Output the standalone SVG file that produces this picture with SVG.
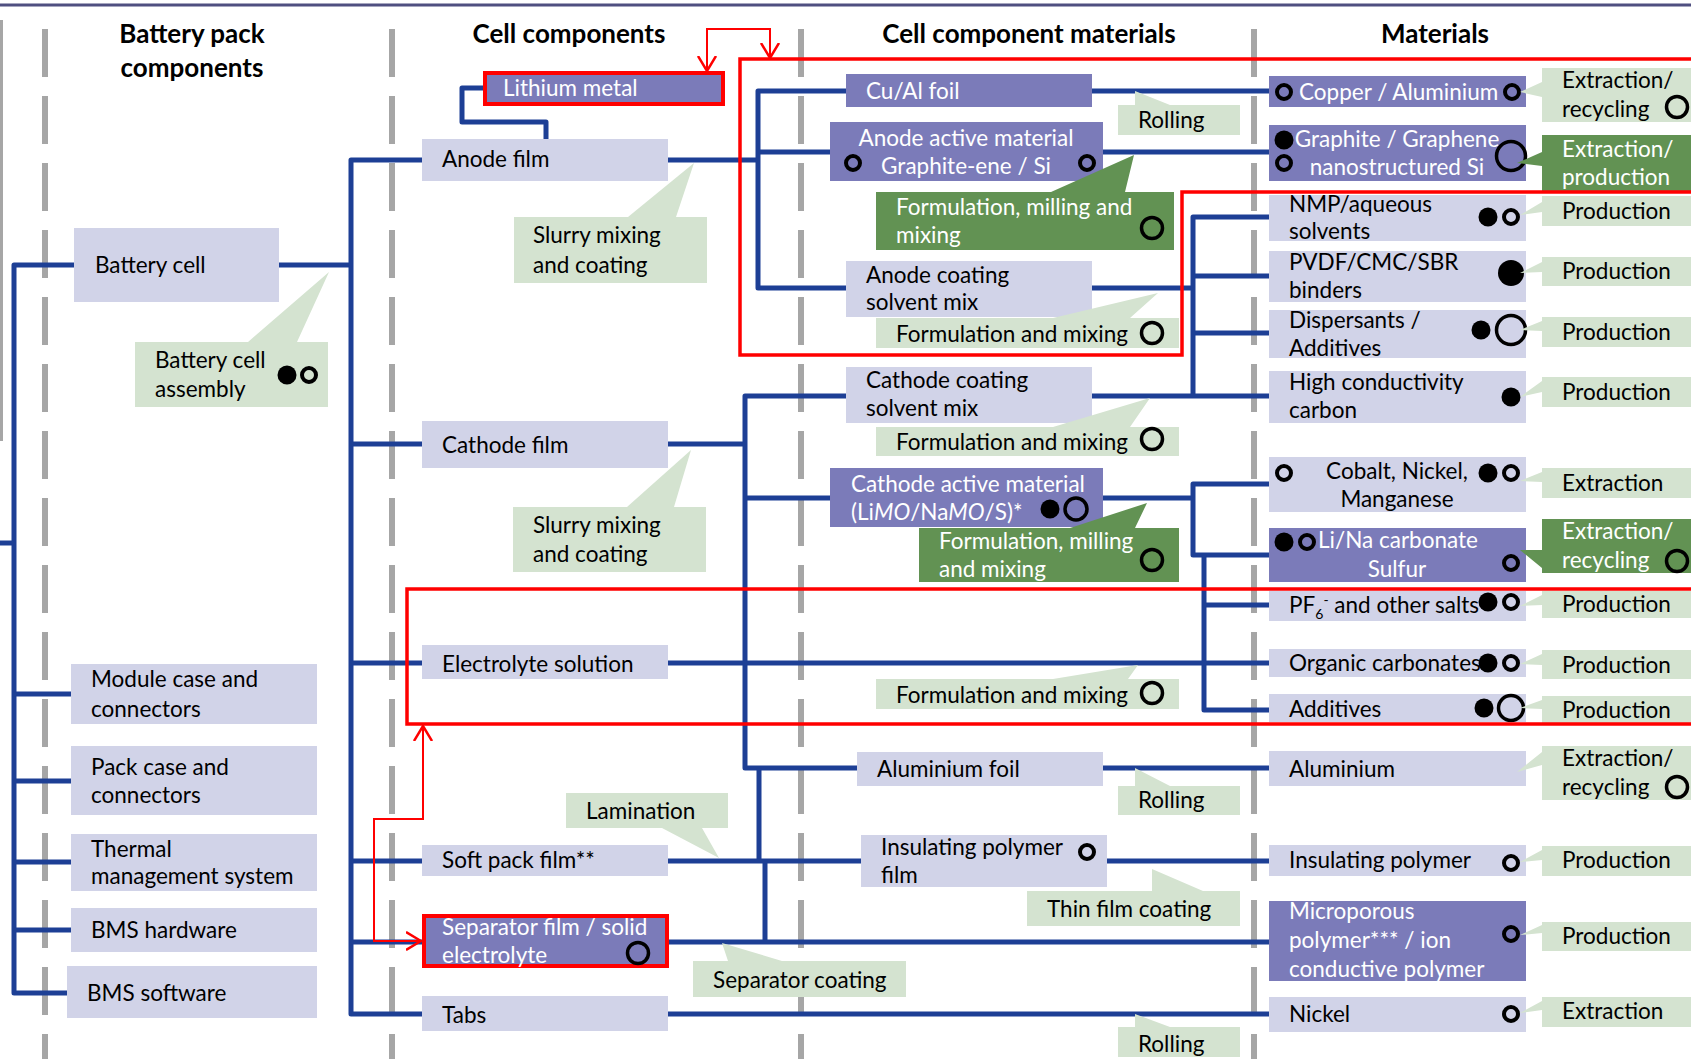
<svg xmlns="http://www.w3.org/2000/svg" width="1691" height="1059" viewBox="0 0 1691 1059">
<style>
.lb{fill:#d1d3e8}
.pb{fill:#7b7bb9}
.lg{fill:#d4e3d0}
.dg{fill:#629253}
.con{fill:none;stroke:#1d3f95;stroke-width:5;stroke-linejoin:round}
.dash{stroke:#a6a6a6;stroke-width:6;stroke-dasharray:48 19}
.rf{fill:none;stroke:#ff0000;stroke-width:3.5}
.ra{fill:none;stroke:#ff0000;stroke-width:2}
text{font-family:Lato,"Liberation Sans",sans-serif;font-size:22.5px;fill:#000}
.w{fill:#fff}
.h{font-weight:bold;font-size:26px;text-anchor:middle}
.m{text-anchor:middle}
.f{fill:#000}
.o{fill:none;stroke:#000;stroke-width:4}
.ol{fill:none;stroke:#000;stroke-width:3.5}
</style>
<defs>
<marker id="ah" viewBox="0 0 16 20" refX="15" refY="10" markerWidth="16" markerHeight="20" markerUnits="userSpaceOnUse" orient="auto-start-reverse">
<path d="M0,1 L15,10 L0,19" fill="none" stroke="#ff0000" stroke-width="2.5"/>
</marker>
</defs>
<rect width="1691" height="1059" fill="#fff"/>
<line x1="0" y1="5" x2="1691" y2="5" stroke="#4f4f80" stroke-width="3"/>
<line x1="1.5" y1="20" x2="1.5" y2="441" stroke="#a6a6a6" stroke-width="3"/>
<g id="columns">
<line class="dash" x1="45" y1="29" x2="45" y2="1059"/>
<line class="dash" x1="392" y1="29" x2="392" y2="1059"/>
<line class="dash" x1="801" y1="29" x2="801" y2="1059"/>
<line class="dash" x1="1254" y1="29" x2="1254" y2="1059"/>
</g>
<g id="headers">
<text class="h" x="192" y="43">Battery pack</text>
<text class="h" x="192" y="77">components</text>
<text class="h" x="569" y="43">Cell components</text>
<text class="h" x="1029" y="43">Cell component materials</text>
<text class="h" x="1435" y="43">Materials</text>
</g>
<g id="connectors">
<path class="con" d="M74,265 H14 V993 H67"/>
<path class="con" d="M0,543 H14"/>
<path class="con" d="M14,694 H71 M14,781 H71 M14,862 H71 M14,930 H71"/>
<path class="con" d="M279,265 H351"/>
<path class="con" d="M422,160 H351 V1014 H422"/>
<path class="con" d="M351,444 H422 M351,663 H422 M351,861 H422 M351,942 H422"/>
<path class="con" d="M483,88 H462 V122 H546 V139"/>
<path class="con" d="M668,160 H758"/>
<path class="con" d="M846,91 H758 V288 H846 M758,152 H830"/>
<path class="con" d="M1092,91 H1269 M1103,152 H1269"/>
<path class="con" d="M1092,288 H1193"/>
<path class="con" d="M1269,217 H1193 V396 H1269 M1193,276 H1269 M1193,333 H1269 M1092,396 H1193"/>
<path class="con" d="M846,396 H745 V768 H857 M668,444 H745 M745,498 H830"/>
<path class="con" d="M1103,498 H1193"/>
<path class="con" d="M1269,484 H1193 V555 H1269"/>
<path class="con" d="M1204,555 V710 H1269 M1204,605 H1269"/>
<path class="con" d="M668,663 H1269"/>
<path class="con" d="M1103,768 H1269"/>
<path class="con" d="M759,768 V861 M765,861 V942"/>
<path class="con" d="M668,861 H861 M1107,861 H1269"/>
<path class="con" d="M669,942 H1269"/>
<path class="con" d="M668,1014 H1269"/>
</g>
<g id="battery-cell"><rect class="lb" x="74" y="228" width="205" height="74"/><text x="95" y="273">Battery cell</text></g>
<g id="battery-cell-assembly"><path class="lg" d="M135,342 H248 L329,272 L297,342 H328 V407 H135 Z"/><text x="155" y="368">Battery cell</text><text x="155" y="397">assembly</text><circle class="f" cx="287" cy="375" r="9.5"/><circle class="o" cx="309" cy="375" r="7"/></g>
<g id="module-case"><rect class="lb" x="71" y="664" width="246" height="60"/><text x="91" y="687">Module case and</text><text x="91" y="717">connectors</text></g>
<g id="pack-case"><rect class="lb" x="71" y="746" width="246" height="69"/><text x="91" y="775">Pack case and</text><text x="91" y="803">connectors</text></g>
<g id="thermal"><rect class="lb" x="71" y="834" width="246" height="57"/><text x="91" y="857">Thermal</text><text x="91" y="884">management system</text></g>
<g id="bms-hw"><rect class="lb" x="71" y="908" width="246" height="44"/><text x="91" y="938">BMS hardware</text></g>
<g id="bms-sw"><rect class="lb" x="67" y="966" width="250" height="52"/><text x="87" y="1001">BMS software</text></g>

<g id="lithium-metal"><rect class="pb" x="485" y="73" width="238" height="31" stroke="#ff0000" stroke-width="4"/><text class="w" x="503" y="96">Lithium metal</text></g>
<g id="anode-film"><rect class="lb" x="422" y="139" width="246" height="42"/><text x="442" y="167">Anode film</text></g>
<g id="slurry-anode"><path class="lg" d="M514,217 H628 L694,163 L676,217 H707 V283 H514 Z"/><text x="533" y="243">Slurry mixing</text><text x="533" y="273">and coating</text></g>
<g id="cathode-film"><rect class="lb" x="422" y="421" width="246" height="47"/><text x="442" y="453">Cathode film</text></g>
<g id="slurry-cathode"><path class="lg" d="M513,507 H627 L691,450 L674,507 H706 V572 H513 Z"/><text x="533" y="533">Slurry mixing</text><text x="533" y="562">and coating</text></g>
<g id="electrolyte"><rect class="lb" x="422" y="645" width="246" height="34"/><text x="442" y="672">Electrolyte solution</text></g>
<g id="lamination"><path class="lg" d="M566,793 H728 V828 H702 L719,858 L662,828 H566 Z"/><text x="586" y="819">Lamination</text></g>
<g id="soft-pack"><rect class="lb" x="422" y="845" width="246" height="31"/><text x="442" y="868">Soft pack film**</text></g>
<g id="separator"><rect class="pb" x="424" y="916" width="243" height="50" stroke="#ff0000" stroke-width="4"/><text class="w" x="442" y="935">Separator film / solid</text><text class="w" x="442" y="963">electrolyte</text><circle class="ol" cx="638" cy="953" r="10.5"/></g>
<g id="tabs"><rect class="lb" x="422" y="996" width="246" height="35"/><text x="442" y="1023">Tabs</text></g>

<g id="cu-al-foil"><rect class="pb" x="846" y="74" width="246" height="33"/><text class="w" x="866" y="99">Cu/Al foil</text></g>
<g id="rolling-1"><path class="lg" d="M1118,105 H1135 V91 L1170,105 H1240 V135 H1118 Z"/><text x="1138" y="128">Rolling</text></g>
<g id="anode-active"><rect class="pb" x="830" y="122" width="273" height="59"/><text class="w m" x="966" y="146">Anode active material</text><text class="w m" x="966" y="174">Graphite-ene / Si</text><circle class="o" cx="853" cy="163" r="7"/><circle class="o" cx="1087" cy="163" r="7"/></g>
<g id="form-mill-anode"><path class="dg" d="M876,192 H1051 L1134,155 L1125,192 H1174 V250 H876 Z"/><text class="w" x="896" y="215">Formulation, milling and</text><text class="w" x="896" y="243">mixing</text><circle class="ol" cx="1152" cy="228" r="10.5"/></g>
<g id="anode-coating"><rect class="lb" x="846" y="261" width="246" height="56"/><text x="866" y="283">Anode coating</text><text x="866" y="310">solvent mix</text></g>
<g id="form-mix-anode"><path class="lg" d="M876,318 H1053 L1158,293 L1130,318 H1179 V348 H876 Z"/><text x="896" y="342">Formulation and mixing</text><circle class="ol" cx="1152" cy="333" r="10.5"/></g>
<g id="cathode-coating"><rect class="lb" x="846" y="367" width="246" height="56"/><text x="866" y="388">Cathode coating</text><text x="866" y="416">solvent mix</text></g>
<g id="form-mix-cathode"><path class="lg" d="M876,427 H1053 L1150,398 L1130,427 H1179 V456 H876 Z"/><text x="896" y="450">Formulation and mixing</text><circle class="ol" cx="1152" cy="439" r="10.5"/></g>
<g id="cathode-active"><rect class="pb" x="830" y="468" width="273" height="59"/><text class="w" x="851" y="492">Cathode active material</text><text class="w" x="851" y="520">(Li<tspan font-style="italic">MO</tspan>/Na<tspan font-style="italic">MO</tspan>/S)*</text><circle class="f" cx="1050" cy="509" r="9.5"/><circle class="ol" cx="1076" cy="509" r="11"/></g>
<g id="form-mill-cathode"><path class="dg" d="M919,528 H1070 L1147,503 L1135,528 H1179 V582 H919 Z"/><text class="w" x="939" y="549">Formulation, milling</text><text class="w" x="939" y="577">and mixing</text><circle class="ol" cx="1152" cy="560" r="10.5"/></g>
<g id="form-mix-electrolyte"><path class="lg" d="M876,679 H1053 L1138,665 L1128,679 H1179 V709 H876 Z"/><text x="896" y="703">Formulation and mixing</text><circle class="ol" cx="1152" cy="693" r="10.5"/></g>
<g id="aluminium-foil"><rect class="lb" x="857" y="752" width="246" height="34"/><text x="877" y="777">Aluminium foil</text></g>
<g id="rolling-2"><path class="lg" d="M1118,786 H1135 V768 L1170,786 H1240 V815 H1118 Z"/><text x="1138" y="808">Rolling</text></g>
<g id="insulating-film"><rect class="lb" x="861" y="835" width="246" height="52"/><text x="881" y="855">Insulating polymer</text><text x="881" y="883">film</text><circle class="o" cx="1087" cy="852" r="7"/></g>
<g id="thin-film"><path class="lg" d="M1027,891 H1152 V869 L1203,891 H1240 V926 H1027 Z"/><text x="1047" y="917">Thin film coating</text></g>
<g id="separator-coating"><path class="lg" d="M693,961 H728 L722,943 L782,961 H906 V997 H693 Z"/><text x="713" y="988">Separator coating</text></g>
<g id="rolling-3"><path class="lg" d="M1118,1027 H1135 V1014 L1170,1027 H1240 V1057 H1118 Z"/><text x="1138" y="1052">Rolling</text></g>

<g id="copper-aluminium"><rect class="pb" x="1269" y="76" width="257" height="31"/><text class="w" x="1299" y="100">Copper / Aluminium</text><circle class="o" cx="1284" cy="92" r="7"/><circle class="o" cx="1512" cy="92" r="7"/></g>
<g id="ext-rec-1"><path class="lg" d="M1542,68 H1691 V122 H1542 V97 L1520,92 L1542,82 Z"/><text x="1562" y="88">Extraction/</text><text x="1562" y="117">recycling</text><circle class="ol" cx="1677" cy="107" r="10.5"/></g>
<g id="graphite"><rect class="pb" x="1269" y="125" width="257" height="56"/><text class="w m" x="1397" y="147">Graphite / Graphene</text><text class="w m" x="1397" y="175">nanostructured Si</text><circle class="f" cx="1284" cy="140" r="9.5"/><circle class="o" cx="1284" cy="163" r="7"/><circle class="ol" cx="1511" cy="156" r="14.5"/></g>
<g id="ext-prod"><path class="dg" d="M1542,135 H1691 V192 H1542 V166 L1517,163 L1542,152 Z"/><text class="w" x="1562" y="157">Extraction/</text><text class="w" x="1562" y="185">production</text></g>
<g id="nmp"><rect class="lb" x="1269" y="195" width="257" height="46"/><text x="1289" y="212">NMP/aqueous</text><text x="1289" y="239">solvents</text><circle class="f" cx="1488" cy="217" r="9.5"/><circle class="o" cx="1511" cy="217" r="7"/></g>
<g id="prod-1"><path class="lg" d="M1542,196 H1691 V226 H1542 V212 L1520,215 L1542,202 Z"/><text x="1562" y="219">Production</text></g>
<g id="pvdf"><rect class="lb" x="1269" y="251" width="257" height="51"/><text x="1289" y="270">PVDF/CMC/SBR</text><text x="1289" y="298">binders</text><circle class="f" cx="1511" cy="273" r="13"/></g>
<g id="prod-2"><path class="lg" d="M1542,257 H1691 V286 H1542 V272 L1520,273 L1542,262 Z"/><text x="1562" y="279">Production</text></g>
<g id="dispersants"><rect class="lb" x="1269" y="310" width="257" height="48"/><text x="1289" y="328">Dispersants /</text><text x="1289" y="356">Additives</text><circle class="f" cx="1481" cy="330" r="9.5"/><circle class="ol" cx="1511" cy="330" r="14.5"/></g>
<g id="prod-3"><path class="lg" d="M1542,317 H1691 V347 H1542 V331 L1520,330 L1542,321 Z"/><text x="1562" y="340">Production</text></g>
<g id="high-carbon"><rect class="lb" x="1269" y="371" width="257" height="52"/><text x="1289" y="390">High conductivity</text><text x="1289" y="418">carbon</text><circle class="f" cx="1511" cy="397" r="9.5"/></g>
<g id="prod-4"><path class="lg" d="M1542,377 H1691 V407 H1542 V392 L1520,397 L1542,381 Z"/><text x="1562" y="400">Production</text></g>
<g id="cobalt"><rect class="lb" x="1269" y="457" width="257" height="55"/><text class="m" x="1397" y="479">Cobalt, Nickel,</text><text class="m" x="1397" y="507">Manganese</text><circle class="o" cx="1284" cy="473" r="7"/><circle class="f" cx="1488" cy="473" r="9.5"/><circle class="o" cx="1511" cy="473" r="7"/></g>
<g id="extraction-1"><path class="lg" d="M1542,468 H1691 V498 H1542 V482 L1520,481 L1542,472 Z"/><text x="1562" y="491">Extraction</text></g>
<g id="li-na"><rect class="pb" x="1269" y="528" width="257" height="54"/><text class="w m" x="1398" y="548">Li/Na carbonate</text><text class="w m" x="1397" y="577">Sulfur</text><circle class="f" cx="1284" cy="542" r="9.5"/><circle class="o" cx="1307" cy="542" r="7"/><circle class="o" cx="1511" cy="563" r="7"/></g>
<g id="ext-rec-2"><path class="dg" d="M1542,519 H1691 V573 H1542 V568 L1520,550 L1542,550 Z"/><text class="w" x="1562" y="539">Extraction/</text><text class="w" x="1562" y="568">recycling</text><circle class="ol" cx="1677" cy="561" r="10.5"/></g>
<g id="pf6"><rect class="lb" x="1269" y="591" width="257" height="30"/><text x="1289" y="613">PF<tspan font-size="14" dy="6">6</tspan><tspan font-size="14" dy="-14">-</tspan><tspan dy="8"> and other salts</tspan></text><circle class="f" cx="1488" cy="602" r="9.5"/><circle class="o" cx="1511" cy="602" r="7"/></g>
<g id="prod-5"><path class="lg" d="M1542,591 H1691 V618 H1542 V605 L1520,606 L1542,595 Z"/><text x="1562" y="612">Production</text></g>
<g id="organic"><rect class="lb" x="1269" y="649" width="257" height="28"/><text x="1289" y="671">Organic carbonates</text><circle class="f" cx="1488" cy="663" r="9.5"/><circle class="o" cx="1511" cy="663" r="7"/></g>
<g id="prod-6"><path class="lg" d="M1542,650 H1691 V679 H1542 V665 L1520,664 L1542,654 Z"/><text x="1562" y="673">Production</text></g>
<g id="additives"><rect class="lb" x="1269" y="694" width="257" height="28"/><text x="1289" y="717">Additives</text><circle class="f" cx="1484" cy="708" r="9.5"/><circle class="ol" cx="1511" cy="708" r="12.5"/></g>
<g id="prod-7"><path class="lg" d="M1542,696 H1691 V723 H1542 V709 L1520,708 L1542,700 Z"/><text x="1562" y="718">Production</text></g>
<g id="aluminium"><rect class="lb" x="1269" y="751" width="257" height="35"/><text x="1289" y="777">Aluminium</text></g>
<g id="ext-rec-3"><path class="lg" d="M1542,746 H1691 V800 H1542 V765 L1517,772 L1542,752 Z"/><text x="1562" y="766">Extraction/</text><text x="1562" y="795">recycling</text><circle class="ol" cx="1677" cy="787" r="10.5"/></g>
<g id="insulating"><rect class="lb" x="1269" y="845" width="257" height="31"/><text x="1289" y="868">Insulating polymer</text><circle class="o" cx="1511" cy="863" r="7"/></g>
<g id="prod-8"><path class="lg" d="M1542,846 H1691 V876 H1542 V860 L1520,862 L1542,850 Z"/><text x="1562" y="868">Production</text></g>
<g id="microporous"><rect class="pb" x="1269" y="901" width="257" height="80"/><text class="w" x="1289" y="919">Microporous</text><text class="w" x="1289" y="948">polymer*** / ion</text><text class="w" x="1289" y="977">conductive polymer</text><circle class="o" cx="1511" cy="934" r="7"/></g>
<g id="prod-9"><path class="lg" d="M1542,922 H1691 V951 H1542 V933 L1520,935 L1542,925 Z"/><text x="1562" y="944">Production</text></g>
<g id="nickel"><rect class="lb" x="1269" y="997" width="257" height="35"/><text x="1289" y="1022">Nickel</text><circle class="o" cx="1511" cy="1014" r="7"/></g>
<g id="extraction-2"><path class="lg" d="M1542,997 H1691 V1027 H1542 V1010 L1520,1013 L1542,1001 Z"/><text x="1562" y="1019">Extraction</text></g>

<g id="red-frames">
<path class="rf" d="M1700,59 H740 V355 H1182 V192 H1700"/>
<path class="rf" d="M1700,589 H407 V724 H1700"/>
<path class="ra" d="M707,71 V29 H770 V58" marker-start="url(#ah)" marker-end="url(#ah)"/>
<path class="ra" d="M423,726 V819 H374 V941 H421" marker-start="url(#ah)" marker-end="url(#ah)"/>
</g>
</svg>
